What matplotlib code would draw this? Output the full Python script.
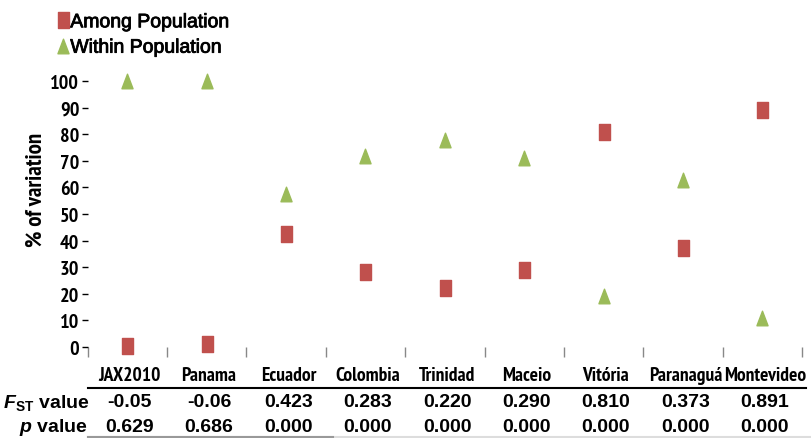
import matplotlib
matplotlib.use("Agg")
import matplotlib.pyplot as plt
import matplotlib.patheffects as pe
from matplotlib.path import Path
from matplotlib.transforms import blended_transform_factory

sites = ["JAX2010", "Panama", "Ecuador", "Colombia", "Trinidad",
         "Maceio", "Vitória", "Paranaguá", "Montevideo"]
among = [0.5, 1.0, 42.3, 28.3, 22.0, 29.0, 81.0, 37.3, 89.1]
within = [100.0, 100.0, 57.7, 71.7, 78.0, 71.0, 19.0, 62.7, 10.9]
fst = ["-0.05", "-0.06", "0.423", "0.283", "0.220", "0.290", "0.810", "0.373", "0.891"]
pval = ["0.629", "0.686", "0.000", "0.000", "0.000", "0.000", "0.000", "0.000", "0.000"]
yticks = list(range(0, 101, 10))

red = "#C0504D"
green = "#9BBB59"
narrow = "PT Sans Narrow"
arial = "Liberation Sans"

plt.rcParams["mathtext.fontset"] = "custom"
plt.rcParams["mathtext.bfit"] = "Liberation Sans:italic:bold"
plt.rcParams["mathtext.bf"] = "Liberation Sans:bold"

# tall rectangle and triangle markers
rect = Path([(-0.36, -0.5), (0.36, -0.5), (0.36, 0.5), (-0.36, 0.5), (-0.36, -0.5)],
            [Path.MOVETO, Path.LINETO, Path.LINETO, Path.LINETO, Path.CLOSEPOLY])
tri = Path([(-0.38, -0.5), (0.38, -0.5), (0.0, 0.5), (-0.38, -0.5)],
           [Path.MOVETO, Path.LINETO, Path.LINETO, Path.CLOSEPOLY])

fig = plt.figure(figsize=(8.11, 4.39), dpi=100)
ax = fig.add_axes([0.108, 0.2073, 0.881, 0.6059])

x = list(range(len(sites)))
h1, = ax.plot(x, among, linestyle="none", marker=rect, markersize=11,
              color=red, clip_on=False, label="Among Population")
h2, = ax.plot(x, within, linestyle="none", marker=tri, markersize=10.5,
              color=green, clip_on=False, label="Within Population")

ax.set_xlim(-0.5, len(sites) - 0.5)
ax.set_ylim(0, 100)
for s in ax.spines.values():
    s.set_visible(False)

ax.set_yticks(yticks)
ax.set_yticklabels([str(t) for t in yticks], fontfamily=narrow,
                   fontweight="bold", fontsize=14.5)
ax.tick_params(axis="y", length=4, width=1, pad=2, color="black")
ax.set_xticks([i - 0.5 for i in range(len(sites) + 1)])
ax.set_xticklabels([])
ax.tick_params(axis="x", length=7, width=1, color="#888888", direction="out")

fig.text(36 / 811, 1 - 190 / 439, "% of variation", rotation=90,
         ha="center", va="center", fontsize=16.5, fontweight="bold",
         fontfamily=narrow)

# table underneath the plot
tr = blended_transform_factory(ax.transData, fig.transFigure)
for i, name in enumerate(sites):
    ax.text(i + 0.03, 1 - 376 / 439, name, transform=tr, ha="center", va="center",
            fontsize=14, fontweight="bold", fontfamily=narrow)
    ax.text(i + 0.03, 1 - 403 / 439, fst[i], transform=tr, ha="center", va="center",
            fontsize=14, fontweight="bold", fontfamily=arial)
    ax.text(i + 0.03, 1 - 428 / 439, pval[i], transform=tr, ha="center", va="center",
            fontsize=14, fontweight="bold", fontfamily=arial)

fig.text(90 / 811, 1 - 403 / 439, r"$\bfit{F}_{\mathbf{ST}}$ value", ha="right",
         va="center", fontsize=14, fontweight="bold", fontfamily=arial)
fig.text(88 / 811, 1 - 428 / 439, r"$\bfit{p}$ value", ha="right",
         va="center", fontsize=14, fontweight="bold", fontfamily=arial)

fig.add_artist(plt.Line2D([88 / 811, 806 / 811], [1 - 388.5 / 439] * 2,
                          color="black", lw=1.5))
fig.add_artist(plt.Line2D([88 / 811, 1.0], [1 - 437.5 / 439] * 2,
                          color="#dddddd", lw=1.5))
fig.add_artist(plt.Line2D([88 / 811, 333 / 811], [1 - 437.5 / 439] * 2,
                          color="#999999", lw=1.5))

leg = fig.legend(handles=[h1, h2], loc="upper left",
                 bbox_to_anchor=(45 / 811, 1 - 3 / 439),
                 frameon=False, handletextpad=0.1, handlelength=0.6,
                 labelspacing=0.4, borderaxespad=0.2,
                 prop={"family": arial, "size": 14}, markerscale=1.0)
for t in leg.get_texts():
    t.set_path_effects([pe.withStroke(linewidth=0.6, foreground="black")])

fig.savefig("out.png", dpi=100)
